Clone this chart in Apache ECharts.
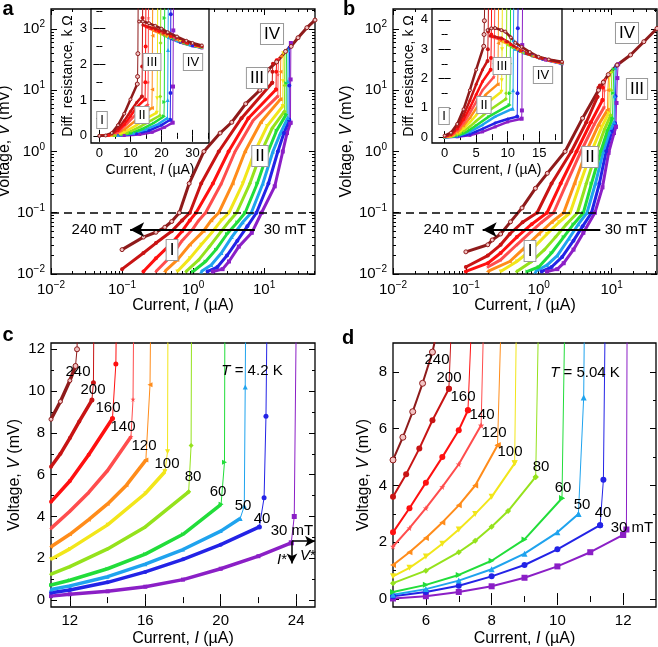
<!DOCTYPE html>
<html>
<head>
<meta charset="utf-8">
<script src="https://cdn.jsdelivr.net/npm/echarts@6/dist/echarts.min.js"></script>
<style>html,body{margin:0;background:#fff}#chart{width:658px;height:647px}</style>
</head>
<body>
<div id="chart"></div>
<script>
// magnetic field of each curve (mT), same order in every data array below
const fields = [30, 40, 50, 60, 80, 100, 120, 140, 160, 200, 240];
const colors = ['#8B1FC6', '#2323E6', '#1FA3EE', '#22DD3A', '#95E21C', '#F2E61A', '#FF8C1A', '#FF4D4D', '#FF1010', '#C81414', '#8E1B1B'];
const STAR = 'path://M50,0L61,35L98,35L68,57L79,91L50,70L21,91L32,57L2,35L39,35Z';
const symbols = ['rect', 'circle', 'triangle', 'triangle', 'diamond', 'triangle', 'triangle', STAR, 'circle', 'circle', 'circle'];
const rotations = [0, 0, 0, -90, 0, 180, 90, 0, 0, 0, 0];

// panel a: V(I) log-log, region I-II, then jump
const aBody = [
  [[1.9,0.011],[2.6,0.012],[3.2,0.016],[4.4,0.028],[6.7,0.047],[9.2,0.1],[14.1,0.27],[18.3,1],[21,2],[23.5,2.95]],
  [[1.6,0.011],[2.2,0.013],[3.0,0.02],[4.2,0.035],[5.8,0.06],[7.8,0.1],[11.5,0.3],[15.6,1],[19,2],[22.5,3.3]],
  [[1.3,0.011],[1.8,0.014],[2.5,0.022],[3.5,0.04],[5,0.07],[6.6,0.1],[9.6,0.3],[13.3,1],[17,2],[21.5,3.55]],
  [[1.0,0.011],[1.5,0.016],[2.1,0.025],[3.0,0.045],[4.2,0.07],[5.4,0.1],[8,0.3],[11.4,1],[15,2.2],[20.4,4.0]],
  [[0.8,0.011],[1.2,0.017],[1.7,0.028],[2.5,0.05],[3.3,0.075],[4.1,0.1],[6.3,0.3],[9.2,1],[13,2.4],[19.3,4.5]],
  [[0.6,0.011],[0.9,0.018],[1.3,0.03],[1.9,0.05],[2.5,0.075],[3.2,0.1],[5,0.3],[7.4,1],[11,2.6],[18.3,5.5]],
  [[0.4,0.011],[0.6,0.017],[0.9,0.03],[1.4,0.05],[1.8,0.075],[2.3,0.1],[3.6,0.3],[5.4,1],[9,3],[16.9,7.1]],
  [[0.3,0.011],[0.5,0.02],[0.7,0.035],[1.0,0.055],[1.2,0.075],[1.5,0.1],[2.5,0.3],[3.9,1],[7,3.2],[15.6,8.0]],
  [[0.2,0.011],[0.3,0.018],[0.5,0.032],[0.7,0.05],[0.9,0.075],[1.1,0.1],[1.9,0.3],[3.16,1],[6,3.5],[14.7,10.3]],
  [[0.1,0.012],[0.2,0.022],[0.3,0.032],[0.5,0.05],[0.7,0.075],[0.9,0.1],[1.3,0.3],[2.3,1],[4.8,3.5],[13.0,13.2]],
  [[0.1,0.025],[0.2,0.04],[0.3,0.048],[0.4,0.058],[0.5,0.072],[0.64,0.1],[0.88,0.3],[1.42,1],[2.4,2],[3.5,3],[5.5,6],[8.7,10],[11.4,21.8],[15,29],[20,43],[24,52],[30,72],[40,105],[52,140]]
];
const aJump = [
  [[23.5,2.95],[23.6,15],[23.8,59]],
  [[22.5,3.3],[22.6,12],[22.8,50]],
  [[21.5,3.55],[21.6,14],[21.8,46]],
  [[20.4,4.0],[20.5,13],[20.7,44]],
  [[19.3,4.5],[19.4,12],[19.6,42]],
  [[18.3,5.5],[18.4,14],[18.6,40]],
  [[16.9,7.1],[17,20],[17.2,36]],
  [[15.6,8],[15.7,18],[15.9,33]],
  [[14.7,10.3],[14.8,20],[15,31]],
  [[13,13.2],[13.1,20],[13.3,27]],
  []
];

// panel b
const bBody = [
  [[1.3,0.011],[1.8,0.012],[2.2,0.015],[3,0.025],[4.1,0.047],[5.9,0.1],[7.5,0.26],[9.1,0.95],[10.8,2.0],[11.5,2.54]],
  [[1.1,0.011],[1.5,0.013],[2.1,0.019],[3,0.035],[4,0.06],[5.3,0.1],[6.8,0.3],[8.4,1],[10,2.1],[11.1,2.9]],
  [[0.9,0.011],[1.3,0.014],[1.8,0.02],[2.6,0.038],[3.5,0.065],[4.6,0.1],[6,0.3],[7.7,1],[9.4,2.1],[10.8,3.0]],
  [[0.7,0.011],[1.0,0.013],[1.5,0.022],[2.2,0.04],[3.0,0.065],[4.1,0.1],[5.3,0.3],[7.1,1],[8.8,2.2],[10.3,3.5]],
  [[0.5,0.011],[0.8,0.016],[1.2,0.025],[1.7,0.04],[2.4,0.065],[3.4,0.1],[4.5,0.3],[6.2,1],[8,2.3],[9.7,3.9]],
  [[0.3,0.011],[0.5,0.016],[0.8,0.025],[1.3,0.045],[1.9,0.07],[2.7,0.1],[3.7,0.3],[5.3,1],[7.3,2.5],[9.1,4.2]],
  [[0.2,0.011],[0.4,0.016],[0.6,0.025],[1.0,0.045],[1.5,0.07],[2.2,0.1],[3.1,0.3],[4.5,1],[6.6,2.7],[8.8,4.8]],
  [[0.2,0.013],[0.3,0.017],[0.5,0.03],[0.8,0.05],[1.1,0.07],[1.6,0.1],[2.4,0.3],[3.8,1],[5.8,2.8],[7.9,5.3]],
  [[0.1,0.011],[0.2,0.015],[0.3,0.022],[0.5,0.04],[0.8,0.065],[1.3,0.1],[2,0.3],[3.3,1],[5.2,3],[7.5,6.9]],
  [[0.1,0.013],[0.2,0.02],[0.3,0.03],[0.4,0.045],[0.6,0.07],[0.95,0.1],[1.5,0.3],[2.8,1],[4.5,3],[6.4,7.8]],
  [[0.1,0.023],[0.2,0.03],[0.23,0.036],[0.3,0.045],[0.41,0.071],[0.59,0.12],[0.9,0.25],[1.31,0.44],[2.3,1],[4,3.5],[6.6,10],[7.7,13.5],[9,18],[11.9,25.8],[18.2,37.7],[27.7,62],[42,102]]
];
const bJump = [
  [[11.5,2.54],[11.7,6.2],[12,15.8],[12.3,26.5]],
  [[11.1,2.9],[11.3,8],[11.6,25]],
  [[10.8,3],[11,8],[11.2,23]],
  [[10.3,3.5],[10.5,9],[10.7,22]],
  [[9.7,3.9],[9.9,10],[10.1,20]],
  [[9.1,4.2],[9.3,10],[9.5,18.5]],
  [[8.8,4.8],[8.9,10],[9.1,17.5]],
  [[7.9,5.3],[8.0,10],[8.2,15]],
  [[7.5,6.9],[7.6,11],[7.8,14]],
  [[6.4,7.8],[6.6,11],[6.9,12]],
  []
];

// inset a: differential resistance (kOhm) vs current (uA)
const iaBody = [
  [[0,0],[8,0.01],[13,0.04],[17,0.1],[21,0.24],[23.6,0.37]],
  [[0,0],[6,0.01],[12,0.06],[16,0.15],[20,0.3],[22.8,0.45]],
  [[0,0],[6,0.01],[11,0.07],[15,0.18],[19,0.33],[21.9,0.5]],
  [[0,0],[5,0.01],[10,0.07],[14,0.2],[17.5,0.36],[20.8,0.55]],
  [[0,0],[5,0.01],[9,0.08],[13,0.25],[16,0.4],[19.5,0.57]],
  [[0,0],[4,0.01],[8,0.1],[12,0.3],[15,0.48],[18.5,0.65]],
  [[0,0],[4,0.02],[8,0.17],[11,0.38],[14,0.6],[16.9,0.78]],
  [[0,0],[3,0.01],[6,0.1],[9,0.35],[12,0.62],[15.6,0.88]],
  [[0,0],[3,0.02],[6,0.15],[8,0.32],[10,0.55],[12,0.8],[14.7,1.02]],
  [[0,0],[2,0.01],[4,0.05],[6,0.2],[8,0.42],[10,0.68],[12,0.93],[13.7,1.1]],
  [[0,0],[2,0.01],[4,0.08],[6,0.3],[8,0.62],[10,1.02],[12.2,1.45]]
];
const iaJump = [
  [[23.6,0.37],[23.7,1.38],[23.8,2.95],[23.9,4]],
  [[22.8,0.45],[22.9,1.2],[23,3.4],[23.1,4]],
  [[21.9,0.5],[22,1.0],[22.1,2.4],[22.2,4]],
  [[20.8,0.55],[20.9,0.95],[21,3.3],[21.1,4]],
  [[19.5,0.57],[19.6,1.1],[19.7,2.6],[19.8,4]],
  [[18.5,0.65],[18.6,1.05],[18.7,2.2],[18.8,4]],
  [[16.9,0.78],[17,1.3],[17.1,2.8],[17.2,4]],
  [[15.6,0.88],[15.7,1.5],[15.8,3.3],[15.9,4]],
  [[14.7,1.02],[14.8,1.5],[14.9,2.5],[15,4]],
  [[13.7,1.1],[13.8,1.94],[13.9,3.3],[14,4]],
  [[12.2,1.45],[12.3,1.66],[12.4,2.3],[12.5,4]]
];
const iaTail = [
  [[24,2.7],[27,2.6],[30,2.52],[33,2.46]],
  [[23.1,2.72],[26,2.62],[30,2.52],[33,2.47]],
  [[22.2,2.75],[25,2.66],[29,2.55],[33,2.47]],
  [[21.1,2.8],[24,2.7],[28,2.57],[33,2.47]],
  [[19.8,2.86],[23,2.74],[27,2.6],[33,2.47]],
  [[18.8,2.9],[22,2.78],[26,2.64],[33,2.48]],
  [[17.2,2.95],[21,2.82],[25,2.68],[33,2.48]],
  [[16,3.0],[20,2.88],[24,2.74],[28,2.6],[33,2.49]],
  [[15,3.05],[19,2.93],[23,2.78],[28,2.6],[33,2.5]],
  [[14,3.1],[18,3.0],[22,2.85],[27,2.63],[33,2.5]],
  [[12.8,3.2],[14,3.2],[16,3.15],[18,3.08],[20,3.0],[22,2.9],[25,2.78],[28,2.66],[30,2.6],[33,2.53]]
];

// inset b
const ibBody = [
  [[0,0],[2,0.01],[4,0.06],[6,0.18],[8,0.35],[10,0.52],[12.2,0.63]],
  [[0,0],[2,0.02],[4,0.1],[6,0.28],[8,0.48],[10,0.62],[11.5,0.7]],
  [[0,0],[2,0.04],[4,0.18],[6,0.42],[8,0.7],[10.8,0.97]],
  [[0,0],[2,0.05],[3,0.13],[4,0.25],[5,0.4],[7,0.7],[10.3,1.1]],
  [[0,0],[1,0.02],[2,0.08],[3,0.2],[4,0.36],[5,0.55],[7,0.9],[9.7,1.3]],
  [[0,0],[1,0.03],[2,0.12],[3,0.28],[4,0.5],[5,0.75],[6.5,1.12],[9,1.55]],
  [[0,0.01],[1,0.04],[2,0.16],[3,0.38],[4,0.65],[5,0.98],[6.5,1.45],[8.4,1.8]],
  [[0,0.01],[1,0.06],[2,0.22],[3,0.48],[4,0.82],[5,1.2],[6,1.6],[7.8,2.05]],
  [[0,0.02],[1,0.08],[2,0.28],[3,0.6],[4,1.0],[5,1.45],[6,1.9],[7.3,2.3]],
  [[0,0.03],[1,0.1],[2,0.35],[3,0.75],[4,1.25],[5,1.8],[6,2.3],[6.8,2.6]],
  [[0,0.05],[1,0.15],[2,0.45],[3,0.95],[4,1.6],[5,2.3],[6.2,3.1]]
];
const ibJump = [
  [[12.2,0.63],[12.25,0.91],[12.3,3.14],[12.35,4.6]],
  [[11.5,0.7],[11.55,1.5],[11.6,3.71],[11.65,4.6]],
  [[10.8,0.97],[10.85,1.6],[10.9,3.3],[10.95,4.6]],
  [[10.3,1.1],[10.35,1.5],[10.4,2.5],[10.45,4.6]],
  [[9.7,1.3],[9.75,1.5],[9.8,2.6],[9.85,4.6]],
  [[9.0,1.55],[9.05,1.94],[9.1,3.0],[9.15,4.6]],
  [[8.4,1.8],[8.45,2.2],[8.5,3.2],[8.55,4.6]],
  [[7.8,2.05],[7.85,2.5],[7.9,3.4],[7.95,4.6]],
  [[7.3,2.3],[7.35,2.7],[7.4,3.5],[7.45,4.6]],
  [[6.8,2.6],[6.85,3.0],[6.9,3.6],[6.95,4.6]],
  [[6.2,3.1],[6.25,3.5],[6.3,3.97],[6.35,4.6]]
];
const ibTail = [
  [[12.5,2.88],[14,2.77],[16,2.63],[18.6,2.5]],
  [[11.8,2.95],[13,2.84],[15.5,2.66],[18.6,2.51]],
  [[11.1,3.0],[12.5,2.88],[15,2.7],[18.6,2.51]],
  [[10.6,3.08],[12,2.92],[14,2.77],[18.6,2.52]],
  [[10,3.15],[11,3.05],[12.5,2.88],[15.5,2.67],[18.6,2.52]],
  [[9.3,3.25],[10.5,3.12],[12,2.93],[15,2.7],[18.6,2.52]],
  [[8.7,3.3],[10,3.2],[11.5,3.0],[14,2.77],[18.6,2.53]],
  [[8.1,3.38],[9.5,3.3],[11,3.08],[13,2.85],[16,2.64],[18.6,2.53]],
  [[7.6,3.42],[9,3.35],[10.5,3.15],[12,2.95],[15,2.7],[18.6,2.54]],
  [[7.2,3.45],[8,3.42],[9,3.38],[10,3.25],[11,3.1],[13,2.85],[15.5,2.68],[18.6,2.55]],
  [[6.8,3.65],[7.4,3.71],[8,3.72],[9,3.65],[9.6,3.6],[10.5,3.4],[11.2,3.22],[12.2,3.08],[13.5,2.9],[14.9,2.74],[16.5,2.65],[18.6,2.57]]
];

// panel c: T = 4.2 K, linear
const cBody = [
  [[11,0.19],[12,0.28],[14,0.42],[16,0.64],[18,0.98],[20,1.5],[22,2.1],[23.74,2.74]],
  [[11,0.35],[12,0.48],[14,0.85],[16,1.35],[18,1.95],[20,2.65],[22.05,3.5]],
  [[11,0.51],[12,0.68],[14,1.12],[16,1.72],[18,2.42],[20,3.3],[21.03,3.9]],
  [[11,0.72],[12,0.95],[14,1.5],[16,2.2],[18,3.15],[20.02,4.58]],
  [[11,1.24],[12,1.6],[14,2.45],[16,3.5],[18.3,5.18]],
  [[11,1.95],[12,2.45],[14,3.6],[16,5.1],[17.04,6.14]],
  [[11,2.55],[12,3.15],[13,3.85],[14,4.6],[15,5.5],[16.03,6.7]],
  [[11,3.43],[12,4.25],[13,5.15],[14,6.2],[15.24,7.81]],
  [[11,4.7],[12,5.7],[13,6.95],[14.26,8.69]],
  [[11,6.38],[11.5,7.0],[12,7.75],[12.5,8.55],[13.17,9.57]],
  [[11,8.65],[11.5,9.5],[12,10.5],[12.3,11.2]]
];
const cJump = [
  [[23.74,2.74],[23.9,4.0],[24.0,13]],
  [[22.05,3.5],[22.3,4.9],[22.4,8.8],[22.45,13]],
  [[21.03,3.9],[21.25,4.5],[21.3,10.2],[21.32,13]],
  [[20.02,4.58],[20.2,6.6],[20.22,13]],
  [[18.3,5.18],[18.43,7.4],[18.45,13]],
  [[17.04,6.14],[17.18,7.1],[17.2,13]],
  [[16.03,6.7],[16.25,10.3],[16.28,13]],
  [[15.24,7.81],[15.35,9.6],[15.38,13]],
  [[14.26,8.69],[14.44,11.3],[14.46,13]],
  [[13.17,9.57],[13.25,10.4],[13.27,13]],
  [[12.3,11.2],[12.38,12.0],[12.4,13]]
];

// panel d: T = 5.04 K, linear
const dBody = [
  [[5,0.02],[6,0.1],[7,0.25],[8,0.45],[9,0.75],[10,1.15],[11,1.65],[12,2.26]],
  [[5,0.1],[6,0.25],[7,0.47],[8,0.8],[9,1.2],[10,1.75],[11.3,2.6]],
  [[5,0.15],[6,0.35],[7,0.65],[8,1.05],[9,1.6],[10,2.35],[10.64,3.0]],
  [[5,0.25],[6,0.5],[7,0.85],[8,1.35],[9,2.1],[10.14,3.55]],
  [[5,0.56],[6,1.0],[7,1.65],[7.5,2.05],[8,2.55],[8.5,3.1],[9.34,4.3]],
  [[5,0.8],[5.5,1.1],[6,1.5],[6.5,1.95],[7,2.45],[7.5,3.0],[8,3.6],[8.7,4.78]],
  [[5,1.2],[5.5,1.65],[6,2.15],[6.5,2.7],[7,3.3],[7.5,4.0],[8.18,5.42]],
  [[5,1.85],[5.5,2.5],[6,3.2],[6.5,3.95],[7,4.75],[7.68,6.12]],
  [[5,2.35],[5.5,3.2],[6,4.1],[6.5,5.0],[7,5.95],[7.28,6.65]],
  [[5,3.6],[5.4,4.4],[5.8,5.3],[6.2,6.3],[6.7,7.41]],
  [[5,4.9],[5.3,5.7],[5.6,6.6],[5.9,7.6],[6.2,8.7],[6.35,9.5]]
];
const dJump = [
  [[12,2.26],[12.1,2.45],[12.12,9.5]],
  [[11.3,2.6],[11.4,4.2],[11.45,9.5]],
  [[10.64,3.0],[10.8,7.1],[10.82,9.5]],
  [[10.14,3.55],[10.22,9.5]],
  [[9.34,4.3],[9.42,9.5]],
  [[8.7,4.78],[8.75,9.5]],
  [[8.18,5.42],[8.28,9.5]],
  [[7.68,6.12],[7.75,9.5]],
  [[7.28,6.65],[7.38,9.5]],
  [[6.7,7.41],[6.77,9.5]],
  []
];

const LB = 'Liberation Sans';
const grids = [], xAxes = [], yAxes = [], series = [], graphics = [];

const logLabel = v => '10{s|' + String(Math.round(Math.log10(v))).replace('-', '\u2212') + '}';
const logMinor = (lo, hi) => {
  const out = [];
  for (let e = -2; e <= 2; e++) for (let m = 2; m <= 9; m++) {
    const v = +(m * Math.pow(10, e)).toPrecision(3);
    if (v > lo && v < hi) out.push(v);
  }
  return out;
};
const outside = (vals, lo, hi) => vals.filter(v => v < lo || v > hi);

function addGrid(box, bg, frame) {
  grids.push({ left: box[0], top: box[1], width: box[2], height: box[3], containLabel: false, outerBoundsMode: 'none',
    show: !!frame, backgroundColor: bg ? '#fff' : 'transparent', borderColor: '#000', borderWidth: frame ? 1.3 : 0 });
  return grids.length - 1;
}

function axis(type, g, r, pos, vals, len, label, name) {
  const a = { type, gridIndex: g, min: r[0], max: r[1], position: pos,
    axisLine: { show: false }, splitLine: { show: false },
    axisTick: { show: vals.length > 0, inside: true, length: len, lineStyle: { color: '#000', width: 1 } },
    axisLabel: { show: false } };
  if (type === 'log') a.logBase = 10;
  if (vals.length) a.axisTick.customValues = vals;
  if (label) a.axisLabel = Object.assign({ show: true, customValues: vals, color: '#000', fontFamily: LB }, label);
  if (name) Object.assign(a, name);
  return a;
}

function nameOpt(text, gap, size) {
  return { name: text, nameLocation: 'middle', nameGap: gap,
    nameTextStyle: { color: '#000', fontFamily: LB, fontSize: size,
      rich: { i: { fontStyle: 'italic', fontFamily: LB, fontSize: size, color: '#000' } } } };
}

function panel(box, inset, x, y) {
  const g = addGrid(box, inset, true);
  const gm = addGrid(box, false, false);
  const xi = xAxes.length, yi = yAxes.length;
  xAxes.push(axis(x.type, g, x.range, 'bottom', x.major, 6, x.label, x.name));
  xAxes.push(axis(x.type, g, x.range, 'top', x.topMajor || x.major, 6));
  xAxes.push(axis(x.type, gm, x.range, 'bottom', x.minor, 3));
  xAxes.push(axis(x.type, gm, x.range, 'top', x.topMinor || x.minor, 3));
  yAxes.push(axis(y.type, g, y.range, 'left', y.major, 6, y.label, y.name));
  yAxes.push(axis(y.type, g, y.range, 'right', y.major, 6));
  yAxes.push(axis(y.type, gm, y.range, 'left', y.minor, 3));
  yAxes.push(axis(y.type, gm, y.range, 'right', y.minor, 3));
  return [xi, yi];
}

function curves(ax, body, jump, tail, st) {
  fields.forEach((f, k) => {
    const base = { type: 'line', xAxisIndex: ax[0], yAxisIndex: ax[1], silent: true, animation: false,
      symbol: symbols[k], symbolRotate: rotations[k], showAllSymbol: true, z: st.z || 2,
      itemStyle: { color: k === 10 ? '#f2c4c4' : colors[k], borderColor: colors[k], borderWidth: k === 10 ? 1 : 0 } };
    const s = Object.assign({}, base, { name: f + ' mT', data: body[k], symbolSize: st.size, lineStyle: { color: colors[k], width: st.width } });
    if (k === 0 && st.marks) s.markLine = st.marks;
    series.push(s);
    if (jump && jump[k].length) series.push(Object.assign({}, base, { data: jump[k], symbolSize: st.jumpSize || st.size, lineStyle: { color: colors[k], width: 1 } }));
    if (tail && tail[k].length) series.push(Object.assign({}, base, { data: tail[k], symbolSize: st.size, lineStyle: { color: colors[k], width: st.width } }));
  });
}

const logTick = { fontSize: 15, margin: 6, formatter: logLabel, rich: { s: { fontSize: 10, fontFamily: LB, color: '#000', padding: [0, 0, 9, 0] } } };
const linTick = { fontSize: 15, margin: 6 };
const insTick = { fontSize: 13, margin: 4 };
const vName = 'Voltage, {i|V} (mV)';
const iName = 'Current, {i|I} (\u00b5A)';
const rName = 'Diff. resistance, k \u03a9';

// ---- panel a ----
const axA = panel([51, 9, 264, 265], false,
  { type: 'log', range: [0.01, 52], major: [0.01, 0.1, 1, 10], minor: logMinor(0.01, 52),
    topMajor: outside([0.01, 0.1, 1, 10], 0.03, 1.8), topMinor: outside(logMinor(0.01, 52), 0.03, 1.8),
    label: logTick, name: nameOpt(iName, 24, 16) },
  { type: 'log', range: [0.01, 212], major: [0.01, 0.1, 1, 10, 100], minor: logMinor(0.01, 212),
    label: logTick, name: nameOpt(vName, 34, 16) });
const axIA = panel([91, 9, 118, 134], true,
  { type: 'value', range: [-2.7, 35.3], major: [0, 10, 20, 30], minor: [5, 15, 25, 35], label: insTick, name: nameOpt(iName, 20, 14) },
  { type: 'value', range: [-0.2, 3.55], major: [0, 1, 2, 3], minor: [0.5, 1.5, 2.5, 3.5], label: insTick, name: nameOpt(rName, 16, 14) });

// ---- panel b ----
const axB = panel([393, 9, 264, 265], false,
  { type: 'log', range: [0.01, 42], major: [0.01, 0.1, 1, 10], minor: logMinor(0.01, 42),
    topMajor: outside([0.01, 0.1, 1, 10], 0.03, 2.3), topMinor: outside(logMinor(0.01, 42), 0.03, 2.3),
    label: logTick, name: nameOpt(iName, 24, 16) },
  { type: 'log', range: [0.01, 212], major: [0.01, 0.1, 1, 10, 100], minor: logMinor(0.01, 212),
    label: logTick, name: nameOpt(vName, 34, 16) });
const axIB = panel([432, 9, 130, 134], true,
  { type: 'value', range: [-2, 18.6], major: [0, 5, 10, 15], minor: [2.5, 7.5, 12.5, 17.5], label: insTick, name: nameOpt(iName, 20, 14) },
  { type: 'value', range: [-0.2, 4.37], major: [0, 1, 2, 3, 4], minor: [0.5, 1.5, 2.5, 3.5], label: insTick, name: nameOpt(rName, 16, 14) });

// ---- panel c ----
const axC = panel([51, 343, 264, 264], false,
  { type: 'value', range: [11, 25], major: [12, 16, 20, 24], minor: [14, 18, 22], label: linTick, name: nameOpt(iName, 24, 16) },
  { type: 'value', range: [-0.33, 12.3], major: [0, 2, 4, 6, 8, 10, 12], minor: [1, 3, 5, 7, 9, 11], label: linTick, name: nameOpt(vName, 28, 16) });

// ---- panel d ----
const axD = panel([393, 343, 263, 264], false,
  { type: 'value', range: [5, 13], major: [6, 8, 10, 12], minor: [7, 9, 11], label: linTick, name: nameOpt(iName, 24, 16) },
  { type: 'value', range: [-0.28, 9.02], major: [0, 2, 4, 6, 8], minor: [1, 3, 5, 7], label: linTick, name: nameOpt(vName, 21, 16) });

// dashed threshold at 0.1 mV and the field arrow
const dashAndArrow = (from, to) => ({ silent: true, animation: false, label: { show: false }, symbol: ['none', 'none'],
  data: [
    { yAxis: 0.1, lineStyle: { type: [8, 5], width: 1.5, color: '#000' } },
    [{ coord: from, symbol: 'none', lineStyle: { type: 'solid', width: 2, color: '#000' } }, { coord: to, symbol: 'arrow', symbolSize: [11, 14] }]
  ] });

curves(axA, aBody, aJump, null, { width: 3, size: 4, jumpSize: 4, marks: dashAndArrow([7.4, 0.053], [0.13, 0.053]) });
curves(axIA, iaBody, iaJump, iaTail, { width: 2.5, size: 3, jumpSize: 4, z: 5 });
curves(axB, bBody, bJump, null, { width: 3, size: 4, jumpSize: 4, marks: dashAndArrow([7.0, 0.053], [0.17, 0.053]) });
curves(axIB, ibBody, ibJump, ibTail, { width: 2.5, size: 3, jumpSize: 4, z: 5 });
curves(axC, cBody, cJump, null, { width: 3.5, size: 4, jumpSize: 5,
  marks: { silent: true, animation: false, label: { show: false }, symbol: ['none', 'arrow'], symbolSize: [8, 10],
    lineStyle: { type: 'solid', width: 1.5, color: '#000' },
    data: [[{ coord: [23.78, 2.82] }, { coord: [25, 2.82] }], [{ coord: [23.78, 2.82] }, { coord: [23.78, 1.75] }]] } });
curves(axD, dBody, dJump, null, { width: 2, size: 6, jumpSize: 6 });

// ---- annotations ----
const RICH = { i: { fontStyle: 'italic', fontFamily: LB, fontSize: 15, fill: '#000' } };
function txt(x, y, s, size, extra) {
  graphics.push({ type: 'text', x, y, z: 100, silent: true,
    style: Object.assign({ text: s, fontSize: size, fontFamily: LB, fill: '#000', align: 'center', verticalAlign: 'middle', rich: RICH }, extra || {}) });
}
const boxed = { backgroundColor: '#fff', borderColor: '#9a9a9a', borderWidth: 1, padding: [2, 3, 1, 3] };

txt(8, 9, 'a', 20, { fontWeight: 'bold' });
txt(349, 9, 'b', 20, { fontWeight: 'bold' });
txt(8, 335, 'c', 20, { fontWeight: 'bold' });
txt(348, 338, 'd', 20, { fontWeight: 'bold' });

txt(97, 230, '240 mT', 15); txt(285, 230, '30 mT', 15);
txt(449, 230, '240 mT', 15); txt(626, 230, '30 mT', 15);

txt(272, 34, 'IV', 17, boxed); txt(257, 78, 'III', 17, boxed); txt(260, 156, 'II', 17, boxed); txt(172, 250, 'I', 17, boxed);
txt(102, 120, 'I', 13, boxed); txt(142, 115, 'II', 13, boxed); txt(152, 62, 'III', 13, boxed); txt(193, 62, 'IV', 13, boxed);
txt(627, 33, 'IV', 17, boxed); txt(637, 89, 'III', 17, boxed); txt(590, 157, 'II', 17, boxed); txt(530, 251, 'I', 17, boxed);
txt(444, 116, 'I', 13, boxed); txt(484, 105, 'II', 13, boxed); txt(502, 66, 'III', 13, boxed); txt(543, 75, 'IV', 13, boxed);

txt(252, 371, '{i|T} = 4.2 K', 15);
txt(585, 373, '{i|T} = 5.04 K', 15);

const cLabels = [['240', 78, 372], ['200', 93, 390], ['160', 108, 408], ['140', 123, 427], ['120', 144, 446], ['100', 167, 464],
  ['80', 193, 477], ['60', 218, 492], ['50', 243, 506], ['40', 262, 519], ['30 mT', 292, 531]];
cLabels.forEach(l => txt(l[1], l[2], l[0], 15));
const dLabels = [['240', 437, 360], ['200', 449, 378], ['160', 463, 397], ['140', 482, 415], ['120', 494, 433], ['100', 510, 452],
  ['80', 541, 467], ['60', 563, 488], ['50', 582, 505], ['40', 603, 513], ['30 mT', 632, 528]];
dLabels.forEach(l => txt(l[1], l[2], l[0], 15));
txt(282, 560, '{i|I}*', 15);
txt(308, 556, '{i|V}*', 15);

const chart = echarts.init(document.getElementById('chart'), null, { renderer: 'canvas' });
chart.setOption({
  animation: false,
  backgroundColor: '#fff',
  grid: grids,
  xAxis: xAxes,
  yAxis: yAxes,
  series: series,
  graphic: graphics
});
</script>
</body>
</html>
